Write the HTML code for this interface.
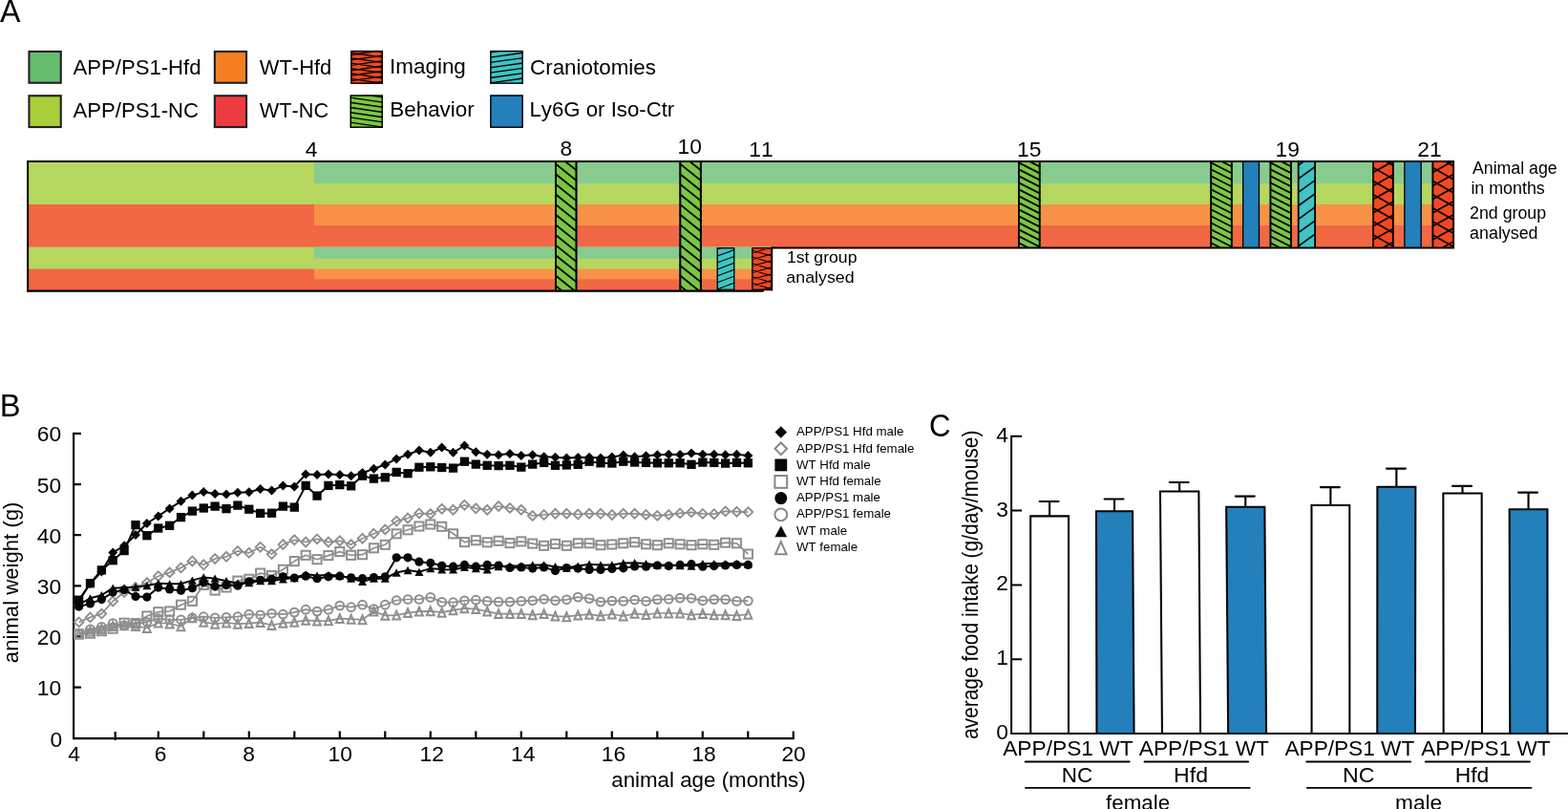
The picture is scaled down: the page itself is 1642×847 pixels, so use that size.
<!DOCTYPE html>
<html lang="en">
<head>
<meta charset="utf-8">
<title>Figure: experimental timeline, animal weight and food intake</title>
<style>
html,body{margin:0;padding:0;background:#fff;}
body{width:1642px;height:847px;overflow:hidden;}
svg{display:block;font-family:'Liberation Sans',sans-serif;font-kerning:none;fill:#000;}
</style>
</head>
<body>
<svg width="1642" height="847" viewBox="0 0 1642 847">
<rect width="1642" height="847" fill="#fff"/>
<defs><clipPath id="c1"><rect x="367.2" y="52.9" width="33.7" height="34.9"/></clipPath><clipPath id="c2"><rect x="366.6" y="99.4" width="34.3" height="34.5"/></clipPath><clipPath id="c3"><rect x="513.2" y="52.9" width="34.6" height="34.9"/></clipPath><clipPath id="c4"><rect x="581" y="169.05" width="23.5" height="135.55"/></clipPath><clipPath id="c5"><rect x="711.3" y="169.05" width="23.6" height="135.55"/></clipPath><clipPath id="c6"><rect x="750.6" y="259.1" width="18.8" height="44.8"/></clipPath><clipPath id="c7"><rect x="787.2" y="259.1" width="21.9" height="44.8"/></clipPath><clipPath id="c8"><rect x="1066" y="169.05" width="23.7" height="90.45"/></clipPath><clipPath id="c9"><rect x="1267.2" y="169.05" width="23.6" height="90.45"/></clipPath><clipPath id="c10"><rect x="1329.5" y="169.05" width="23.4" height="90.45"/></clipPath><clipPath id="c11"><rect x="1358.8" y="169.05" width="19.2" height="90.45"/></clipPath><clipPath id="c12"><rect x="1437.2" y="169.05" width="22.5" height="90.45"/></clipPath><clipPath id="c13"><rect x="1499.5" y="169.05" width="23.5" height="90.45"/></clipPath></defs>
<g id="panelA">
<text x="-0.06" y="22.7" font-size="33.3" textLength="21.43" lengthAdjust="spacingAndGlyphs">A</text>
<rect x="30.45" y="53.95" width="33.3" height="32.8" fill="#66bd6e" stroke="#231f20" stroke-width="2.1"/>
<rect x="30.45" y="100.25" width="33.3" height="32.8" fill="#a8ce38" stroke="#231f20" stroke-width="2.1"/>
<rect x="224.85" y="53.95" width="33.2" height="32.8" fill="#f57f20" stroke="#231f20" stroke-width="2.1"/>
<rect x="224.85" y="100.25" width="33.2" height="32.8" fill="#ee3b3f" stroke="#231f20" stroke-width="2.1"/>
<rect x="367.2" y="52.9" width="33.7" height="34.9" fill="#f04923"/>
<path d="M367.2 38.88L400.9 43.83M367.2 44.32L400.9 49.27M367.2 49.76L400.9 54.71M367.2 55.2L400.9 60.15M367.2 60.64L400.9 65.59M367.2 66.08L400.9 71.03M367.2 71.52L400.9 76.47M367.2 76.96L400.9 81.91M367.2 82.4L400.9 87.35M367.2 87.84L400.9 92.79M367.2 93.28L400.9 98.23M367.2 41.18L400.9 36.36M367.2 46.62L400.9 41.8M367.2 52.06L400.9 47.24M367.2 57.5L400.9 52.68M367.2 62.94L400.9 58.12M367.2 68.38L400.9 63.56M367.2 73.82L400.9 69M367.2 79.26L400.9 74.44M367.2 84.7L400.9 79.88M367.2 90.14L400.9 85.32M367.2 95.58L400.9 90.76" stroke="#000" stroke-width="1.3" fill="none" clip-path="url(#c1)"/>
<rect x="367.9" y="53.6" width="32.3" height="33.5" fill="none" stroke="#000" stroke-width="1.4"/>
<rect x="366.6" y="99.4" width="34.3" height="34.5" fill="#7cc644"/>
<path d="M366.6 86.5L400.9 91.51M366.6 91.7L400.9 96.71M366.6 96.9L400.9 101.91M366.6 102.1L400.9 107.11M366.6 107.3L400.9 112.31M366.6 112.5L400.9 117.51M366.6 117.7L400.9 122.71M366.6 122.9L400.9 127.91M366.6 128.1L400.9 133.11M366.6 133.3L400.9 138.31M366.6 138.5L400.9 143.51M366.6 143.7L400.9 148.71" stroke="#000" stroke-width="1.4" fill="none" clip-path="url(#c2)"/>
<rect x="367.3" y="100.1" width="32.9" height="33.1" fill="none" stroke="#000" stroke-width="1.4"/>
<rect x="513.2" y="52.9" width="34.6" height="34.9" fill="#40c4c4"/>
<path d="M513.2 38.7L547.8 33.86M513.2 44.05L547.8 39.21M513.2 49.4L547.8 44.56M513.2 54.75L547.8 49.91M513.2 60.1L547.8 55.26M513.2 65.45L547.8 60.61M513.2 70.8L547.8 65.96M513.2 76.15L547.8 71.31M513.2 81.5L547.8 76.66M513.2 86.85L547.8 82.01M513.2 92.2L547.8 87.36M513.2 97.55L547.8 92.71" stroke="#000" stroke-width="1.35" fill="none" clip-path="url(#c3)"/>
<rect x="513.9" y="53.6" width="33.2" height="33.5" fill="none" stroke="#000" stroke-width="1.4"/>
<rect x="513.2" y="99.4" width="34.6" height="34.5" fill="#2380bb"/>
<rect x="513.9" y="100.1" width="33.2" height="33.1" fill="none" stroke="#000" stroke-width="1.4"/>
<text x="76.56" y="78.2" font-size="22.7" textLength="133.97" lengthAdjust="spacingAndGlyphs">APP/PS1-Hfd</text>
<text x="76.56" y="122.6" font-size="22.7" textLength="131.38" lengthAdjust="spacingAndGlyphs">APP/PS1-NC</text>
<text x="271.8" y="78.2" font-size="22.7" textLength="75.41" lengthAdjust="spacingAndGlyphs">WT-Hfd</text>
<text x="271.8" y="122.6" font-size="22.7" textLength="72.32" lengthAdjust="spacingAndGlyphs">WT-NC</text>
<text x="408.03" y="76.7" font-size="22.7" textLength="79.82" lengthAdjust="spacingAndGlyphs">Imaging</text>
<text x="408.26" y="121.9" font-size="22.7" textLength="88.51" lengthAdjust="spacingAndGlyphs">Behavior</text>
<text x="555.06" y="77.7" font-size="22.7" textLength="131.85" lengthAdjust="spacingAndGlyphs">Craniotomies</text>
<text x="554.48" y="122" font-size="22.7" textLength="151.79" lengthAdjust="spacingAndGlyphs">Ly6G or Iso-Ctr</text>
<rect x="29.1" y="169.05" width="300.9" height="135.55" fill="#f26744"/>
<rect x="29.1" y="169.05" width="300.9" height="44.95" fill="#b6d75f"/>
<rect x="29.1" y="258.6" width="300.9" height="23" fill="#b6d75f"/>
<rect x="329" y="169.05" width="1193.05" height="90.45" fill="#f26744"/>
<rect x="329" y="169.05" width="1193.05" height="66.95" fill="#f79248"/>
<rect x="329" y="169.05" width="1193.05" height="44.95" fill="#b6d75f"/>
<rect x="329" y="169.05" width="1193.05" height="23.05" fill="#88cb8f"/>
<rect x="329" y="258.6" width="479.2" height="46" fill="#f26744"/>
<rect x="329" y="258.6" width="479.2" height="33.7" fill="#f79248"/>
<rect x="329" y="258.6" width="479.2" height="23" fill="#b6d75f"/>
<rect x="329" y="258.6" width="479.2" height="12.1" fill="#88cb8f"/>
<rect x="581" y="169.05" width="23.5" height="135.55" fill="#7cc644"/>
<path d="M581 139.01L604.5 157.81M581 149.64L604.5 168.44M581 160.27L604.5 179.07M581 170.9L604.5 189.7M581 181.53L604.5 200.33M581 192.16L604.5 210.96M581 202.79L604.5 221.59M581 213.42L604.5 232.22M581 224.05L604.5 242.85M581 234.68L604.5 253.48M581 245.31L604.5 264.11M581 255.94L604.5 274.74M581 266.57L604.5 285.37M581 277.2L604.5 296M581 287.83L604.5 306.63M581 298.46L604.5 317.26M581 309.09L604.5 327.89M581 319.72L604.5 338.52M581 330.35L604.5 349.15" stroke="#000" stroke-width="1.85" fill="none" clip-path="url(#c4)"/>
<path d="M582 169.05V304.6M603.5 169.05V304.6" fill="none" stroke="#000" stroke-width="2.0"/>
<rect x="711.3" y="169.05" width="23.6" height="135.55" fill="#7cc644"/>
<path d="M711.3 139.01L734.9 157.89M711.3 149.64L734.9 168.52M711.3 160.27L734.9 179.15M711.3 170.9L734.9 189.78M711.3 181.53L734.9 200.41M711.3 192.16L734.9 211.04M711.3 202.79L734.9 221.67M711.3 213.42L734.9 232.3M711.3 224.05L734.9 242.93M711.3 234.68L734.9 253.56M711.3 245.31L734.9 264.19M711.3 255.94L734.9 274.82M711.3 266.57L734.9 285.45M711.3 277.2L734.9 296.08M711.3 287.83L734.9 306.71M711.3 298.46L734.9 317.34M711.3 309.09L734.9 327.97M711.3 319.72L734.9 338.6M711.3 330.35L734.9 349.23" stroke="#000" stroke-width="1.85" fill="none" clip-path="url(#c5)"/>
<path d="M712.3 169.05V304.6M733.9 169.05V304.6" fill="none" stroke="#000" stroke-width="2.0"/>
<rect x="750.6" y="259.1" width="18.8" height="44.8" fill="#40c4c4"/>
<path d="M750.6 240.62L769.4 233.66M750.6 247.54L769.4 240.58M750.6 254.46L769.4 247.5M750.6 261.38L769.4 254.42M750.6 268.3L769.4 261.34M750.6 275.22L769.4 268.26M750.6 282.14L769.4 275.18M750.6 289.06L769.4 282.1M750.6 295.98L769.4 289.02M750.6 302.9L769.4 295.94M750.6 309.82L769.4 302.86M750.6 316.74L769.4 309.78" stroke="#000" stroke-width="1.05" fill="none" clip-path="url(#c6)"/>
<rect x="751.25" y="259.75" width="17.5" height="43.5" fill="none" stroke="#000" stroke-width="1.3"/>
<rect x="787.2" y="259.1" width="21.9" height="44.8" fill="#f04923"/>
<path d="M787.2 241.24L809.1 247.59M787.2 248.16L809.1 254.51M787.2 255.08L809.1 261.43M787.2 262L809.1 268.35M787.2 268.92L809.1 275.27M787.2 275.84L809.1 282.19M787.2 282.76L809.1 289.11M787.2 289.68L809.1 296.03M787.2 296.6L809.1 302.95M787.2 303.52L809.1 309.87M787.2 310.44L809.1 316.79M787.2 244.14L809.1 238.01M787.2 251.06L809.1 244.93M787.2 257.98L809.1 251.85M787.2 264.9L809.1 258.77M787.2 271.82L809.1 265.69M787.2 278.74L809.1 272.61M787.2 285.66L809.1 279.53M787.2 292.58L809.1 286.45M787.2 299.5L809.1 293.37M787.2 306.42L809.1 300.29M787.2 313.34L809.1 307.21" stroke="#000" stroke-width="1.05" fill="none" clip-path="url(#c7)"/>
<rect x="787.85" y="259.75" width="20.6" height="43.5" fill="none" stroke="#000" stroke-width="1.3"/>
<rect x="1066" y="169.05" width="23.7" height="90.45" fill="#7cc644"/>
<path d="M1066 148.9L1089.7 160.87M1066 155.9L1089.7 167.87M1066 162.9L1089.7 174.87M1066 169.9L1089.7 181.87M1066 176.9L1089.7 188.87M1066 183.9L1089.7 195.87M1066 190.9L1089.7 202.87M1066 197.9L1089.7 209.87M1066 204.9L1089.7 216.87M1066 211.9L1089.7 223.87M1066 218.9L1089.7 230.87M1066 225.9L1089.7 237.87M1066 232.9L1089.7 244.87M1066 239.9L1089.7 251.87M1066 246.9L1089.7 258.87M1066 253.9L1089.7 265.87M1066 260.9L1089.7 272.87M1066 267.9L1089.7 279.87M1066 274.9L1089.7 286.87" stroke="#000" stroke-width="1.8" fill="none" clip-path="url(#c8)"/>
<path d="M1066.95 169.05V259.5M1088.75 169.05V259.5" fill="none" stroke="#000" stroke-width="1.9"/>
<rect x="1267.2" y="169.05" width="23.6" height="90.45" fill="#7cc644"/>
<path d="M1267.2 148.9L1290.8 160.82M1267.2 155.9L1290.8 167.82M1267.2 162.9L1290.8 174.82M1267.2 169.9L1290.8 181.82M1267.2 176.9L1290.8 188.82M1267.2 183.9L1290.8 195.82M1267.2 190.9L1290.8 202.82M1267.2 197.9L1290.8 209.82M1267.2 204.9L1290.8 216.82M1267.2 211.9L1290.8 223.82M1267.2 218.9L1290.8 230.82M1267.2 225.9L1290.8 237.82M1267.2 232.9L1290.8 244.82M1267.2 239.9L1290.8 251.82M1267.2 246.9L1290.8 258.82M1267.2 253.9L1290.8 265.82M1267.2 260.9L1290.8 272.82M1267.2 267.9L1290.8 279.82M1267.2 274.9L1290.8 286.82" stroke="#000" stroke-width="1.8" fill="none" clip-path="url(#c9)"/>
<path d="M1268.15 169.05V259.5M1289.85 169.05V259.5" fill="none" stroke="#000" stroke-width="1.9"/>
<rect x="1301" y="169.05" width="18.1" height="90.45" fill="#2380bb"/>
<path d="M1301.65 169.05V259.5M1318.45 169.05V259.5" fill="none" stroke="#000" stroke-width="1.3"/>
<rect x="1329.5" y="169.05" width="23.4" height="90.45" fill="#7cc644"/>
<path d="M1329.5 148.9L1352.9 160.72M1329.5 155.9L1352.9 167.72M1329.5 162.9L1352.9 174.72M1329.5 169.9L1352.9 181.72M1329.5 176.9L1352.9 188.72M1329.5 183.9L1352.9 195.72M1329.5 190.9L1352.9 202.72M1329.5 197.9L1352.9 209.72M1329.5 204.9L1352.9 216.72M1329.5 211.9L1352.9 223.72M1329.5 218.9L1352.9 230.72M1329.5 225.9L1352.9 237.72M1329.5 232.9L1352.9 244.72M1329.5 239.9L1352.9 251.72M1329.5 246.9L1352.9 258.72M1329.5 253.9L1352.9 265.72M1329.5 260.9L1352.9 272.72M1329.5 267.9L1352.9 279.72M1329.5 274.9L1352.9 286.72" stroke="#000" stroke-width="1.8" fill="none" clip-path="url(#c10)"/>
<path d="M1330.45 169.05V259.5M1351.95 169.05V259.5" fill="none" stroke="#000" stroke-width="1.9"/>
<rect x="1358.8" y="169.05" width="19.2" height="90.45" fill="#40c4c4"/>
<path d="M1358.8 131.4L1378 117.58M1358.8 145.5L1378 131.68M1358.8 159.6L1378 145.78M1358.8 173.7L1378 159.88M1358.8 187.8L1378 173.98M1358.8 201.9L1378 188.08M1358.8 216L1378 202.18M1358.8 230.1L1378 216.28M1358.8 244.2L1378 230.38M1358.8 258.3L1378 244.48M1358.8 272.4L1378 258.58M1358.8 286.5L1378 272.68" stroke="#000" stroke-width="1.65" fill="none" clip-path="url(#c11)"/>
<path d="M1359.7 169.05V259.5M1377.1 169.05V259.5" fill="none" stroke="#000" stroke-width="1.8"/>
<rect x="1437.2" y="169.05" width="22.5" height="90.45" fill="#f04923"/>
<path d="M1437.2 132.7L1459.7 145.52M1437.2 146.8L1459.7 159.62M1437.2 160.9L1459.7 173.72M1437.2 175L1459.7 187.82M1437.2 189.1L1459.7 201.92M1437.2 203.2L1459.7 216.02M1437.2 217.3L1459.7 230.12M1437.2 231.4L1459.7 244.22M1437.2 245.5L1459.7 258.32M1437.2 259.6L1459.7 272.42M1437.2 273.7L1459.7 286.52M1437.2 138.6L1459.7 126.11M1437.2 152.7L1459.7 140.21M1437.2 166.8L1459.7 154.31M1437.2 180.9L1459.7 168.41M1437.2 195L1459.7 182.51M1437.2 209.1L1459.7 196.61M1437.2 223.2L1459.7 210.71M1437.2 237.3L1459.7 224.81M1437.2 251.4L1459.7 238.91M1437.2 265.5L1459.7 253.01M1437.2 279.6L1459.7 267.11" stroke="#000" stroke-width="1.7" fill="none" clip-path="url(#c12)"/>
<path d="M1438.1 169.05V259.5M1458.8 169.05V259.5" fill="none" stroke="#000" stroke-width="1.8"/>
<rect x="1470.2" y="169.05" width="18.6" height="90.45" fill="#2380bb"/>
<path d="M1470.85 169.05V259.5M1488.15 169.05V259.5" fill="none" stroke="#000" stroke-width="1.3"/>
<rect x="1499.5" y="169.05" width="23.5" height="90.45" fill="#f04923"/>
<path d="M1499.5 132.7L1523 146.09M1499.5 146.8L1523 160.19M1499.5 160.9L1523 174.29M1499.5 175L1523 188.39M1499.5 189.1L1523 202.49M1499.5 203.2L1523 216.59M1499.5 217.3L1523 230.69M1499.5 231.4L1523 244.79M1499.5 245.5L1523 258.89M1499.5 259.6L1523 272.99M1499.5 273.7L1523 287.09M1499.5 138.6L1523 125.56M1499.5 152.7L1523 139.66M1499.5 166.8L1523 153.76M1499.5 180.9L1523 167.86M1499.5 195L1523 181.96M1499.5 209.1L1523 196.06M1499.5 223.2L1523 210.16M1499.5 237.3L1523 224.26M1499.5 251.4L1523 238.36M1499.5 265.5L1523 252.46M1499.5 279.6L1523 266.56" stroke="#000" stroke-width="1.7" fill="none" clip-path="url(#c13)"/>
<path d="M1500.4 169.05V259.5M1522.1 169.05V259.5" fill="none" stroke="#000" stroke-width="1.8"/>
<path d="M29.1 305.55V169.05H1522.05V259.5H808.2" fill="none" stroke="#000" stroke-width="2" stroke-linejoin="miter"/>
<path d="M28.1 304.6H799.8" fill="none" stroke="#000" stroke-width="2.3"/>
<path d="M808.2 258.6V304.4" fill="none" stroke="#000" stroke-width="1.8"/>
<text x="326.2" y="163.6" font-size="22.8" text-anchor="middle">4</text>
<text x="592.75" y="163.4" font-size="22.8" text-anchor="middle">8</text>
<text x="722.3" y="160.5" font-size="22.8" text-anchor="middle">10</text>
<text x="796.9" y="163.5" font-size="22.8" text-anchor="middle">11</text>
<text x="1077.7" y="163.6" font-size="22.8" text-anchor="middle">15</text>
<text x="1348.2" y="163.5" font-size="22.8" text-anchor="middle">19</text>
<text x="1497" y="163.5" font-size="22.8" text-anchor="middle">21</text>
<text x="1541.97" y="181.9" font-size="17.6" textLength="88.72" lengthAdjust="spacingAndGlyphs">Animal age</text>
<text x="1540.41" y="203.2" font-size="17.6" textLength="77.34" lengthAdjust="spacingAndGlyphs">in months</text>
<text x="1539.01" y="228.6" font-size="17.6" textLength="80.14" lengthAdjust="spacingAndGlyphs">2nd group</text>
<text x="1539.14" y="249.9" font-size="17.6" textLength="71.41" lengthAdjust="spacingAndGlyphs">analysed</text>
<text x="823.96" y="275" font-size="17.4" textLength="73.48" lengthAdjust="spacingAndGlyphs">1st group</text>
<text x="823.34" y="296.3" font-size="17.4" textLength="71.3" lengthAdjust="spacingAndGlyphs">analysed</text>
</g>
<g id="panelB">
<text x="-0.18" y="435.7" font-size="33.3" textLength="21.81" lengthAdjust="spacingAndGlyphs">B</text>
<path d="M77.1 452.81V773.1H831.9M77.1 719.61H84.9M77.1 666.47H84.9M77.1 613.33H84.9M77.1 560.19H84.9M77.1 507.05H84.9M77.1 453.91H84.9M165.8 773.1V765.5M213.3 773.1V765.5M260.8 773.1V765.5M308.3 773.1V765.5M355.8 773.1V765.5M403.3 773.1V765.5M450.8 773.1V765.5M498.3 773.1V765.5M545.8 773.1V765.5M593.3 773.1V765.5M640.8 773.1V765.5M688.3 773.1V765.5M735.8 773.1V765.5M783.3 773.1V765.5M830.8 773.1V765.5M120.7 775V766.1" fill="none" stroke="#000" stroke-width="2.2"/>
<text x="64.2" y="728.11" font-size="22.8" text-anchor="end">10</text>
<text x="64.2" y="674.97" font-size="22.8" text-anchor="end">20</text>
<text x="64.2" y="621.83" font-size="22.8" text-anchor="end">30</text>
<text x="64.2" y="568.69" font-size="22.8" text-anchor="end">40</text>
<text x="64.2" y="515.55" font-size="22.8" text-anchor="end">50</text>
<text x="64.2" y="462.41" font-size="22.8" text-anchor="end">60</text>
<text x="65.3" y="781.7" font-size="22.8" text-anchor="end">0</text>
<text x="77.55" y="797.2" font-size="22.8" text-anchor="middle">4</text>
<text x="168.1" y="797.2" font-size="22.8" text-anchor="middle">6</text>
<text x="260.5" y="797.2" font-size="22.8" text-anchor="middle">8</text>
<text x="356.3" y="797.2" font-size="22.8" text-anchor="middle">10</text>
<text x="452.3" y="797.2" font-size="22.8" text-anchor="middle">12</text>
<text x="547.7" y="797.2" font-size="22.8" text-anchor="middle">14</text>
<text x="642.4" y="797.2" font-size="22.8" text-anchor="middle">16</text>
<text x="737.1" y="797.2" font-size="22.8" text-anchor="middle">18</text>
<text x="831.1" y="797.2" font-size="22.8" text-anchor="middle">20</text>
<text x="640.25" y="824.3" font-size="22.3" textLength="203.43" lengthAdjust="spacingAndGlyphs">animal age (months)</text>
<text transform="translate(19.4,693.2) rotate(-90)" x="-0.94" y="0" font-size="22.5" textLength="168.61" lengthAdjust="spacingAndGlyphs">animal weight (g)</text>
<polyline points="82.6,664 94.48,661 106.36,658.5 118.23,655.5 130.11,654.9 141.99,655.5 153.87,657.5 165.75,652 177.62,653 189.5,655.7 201.38,646.9 213.26,651.3 225.14,653.2 237.01,652 248.89,653.2 260.77,652.6 272.65,651.6 284.53,654.5 296.4,652.3 308.28,651.3 320.16,649.4 332.04,650.1 343.92,649.8 355.79,647.6 367.67,648.2 379.55,648.8 391.43,640.1 403.31,644.4 415.18,644.1 427.06,641.6 438.94,640.1 450.82,639.8 462.7,641.2 474.57,638.8 486.45,636.9 498.33,637.6 510.21,640.1 522.09,642.6 533.96,642.6 545.84,642.6 557.72,643.8 569.6,642.6 581.48,645.1 593.35,645.7 605.23,644.1 617.11,643.2 628.99,644.8 640.87,643 652.74,645 664.62,642.3 676.5,643.6 688.38,642 700.26,642 712.13,642 724.01,643.8 735.89,642.6 747.77,643.8 759.65,643.8 771.52,644.5 783.4,643.2" fill="none" stroke="#8e8e8e" stroke-width="1.7" stroke-linejoin="round"/>
<path d="M82.6 659.55L86.51 668.45L78.69 668.45Z" fill="none" stroke="#8e8e8e" stroke-width="2.0"/><path d="M94.48 656.55L98.38 665.45L90.57 665.45Z" fill="none" stroke="#8e8e8e" stroke-width="2.0"/><path d="M106.36 654.05L110.26 662.95L102.45 662.95Z" fill="none" stroke="#8e8e8e" stroke-width="2.0"/><path d="M118.23 651.05L122.14 659.95L114.33 659.95Z" fill="none" stroke="#8e8e8e" stroke-width="2.0"/><path d="M130.11 650.45L134.02 659.35L126.21 659.35Z" fill="none" stroke="#8e8e8e" stroke-width="2.0"/><path d="M141.99 651.05L145.9 659.95L138.08 659.95Z" fill="none" stroke="#8e8e8e" stroke-width="2.0"/><path d="M153.87 653.05L157.77 661.95L149.96 661.95Z" fill="none" stroke="#8e8e8e" stroke-width="2.0"/><path d="M165.75 647.55L169.65 656.45L161.84 656.45Z" fill="none" stroke="#8e8e8e" stroke-width="2.0"/><path d="M177.62 648.55L181.53 657.45L173.72 657.45Z" fill="none" stroke="#8e8e8e" stroke-width="2.0"/><path d="M189.5 651.25L193.41 660.15L185.6 660.15Z" fill="none" stroke="#8e8e8e" stroke-width="2.0"/><path d="M201.38 642.45L205.29 651.35L197.47 651.35Z" fill="none" stroke="#8e8e8e" stroke-width="2.0"/><path d="M213.26 646.85L217.16 655.75L209.35 655.75Z" fill="none" stroke="#8e8e8e" stroke-width="2.0"/><path d="M225.14 648.75L229.04 657.65L221.23 657.65Z" fill="none" stroke="#8e8e8e" stroke-width="2.0"/><path d="M237.01 647.55L240.92 656.45L233.11 656.45Z" fill="none" stroke="#8e8e8e" stroke-width="2.0"/><path d="M248.89 648.75L252.8 657.65L244.99 657.65Z" fill="none" stroke="#8e8e8e" stroke-width="2.0"/><path d="M260.77 648.15L264.68 657.05L256.86 657.05Z" fill="none" stroke="#8e8e8e" stroke-width="2.0"/><path d="M272.65 647.15L276.55 656.05L268.74 656.05Z" fill="none" stroke="#8e8e8e" stroke-width="2.0"/><path d="M284.53 650.05L288.43 658.95L280.62 658.95Z" fill="none" stroke="#8e8e8e" stroke-width="2.0"/><path d="M296.4 647.85L300.31 656.75L292.5 656.75Z" fill="none" stroke="#8e8e8e" stroke-width="2.0"/><path d="M308.28 646.85L312.19 655.75L304.38 655.75Z" fill="none" stroke="#8e8e8e" stroke-width="2.0"/><path d="M320.16 644.95L324.07 653.85L316.25 653.85Z" fill="none" stroke="#8e8e8e" stroke-width="2.0"/><path d="M332.04 645.65L335.94 654.55L328.13 654.55Z" fill="none" stroke="#8e8e8e" stroke-width="2.0"/><path d="M343.92 645.35L347.82 654.25L340.01 654.25Z" fill="none" stroke="#8e8e8e" stroke-width="2.0"/><path d="M355.79 643.15L359.7 652.05L351.89 652.05Z" fill="none" stroke="#8e8e8e" stroke-width="2.0"/><path d="M367.67 643.75L371.58 652.65L363.77 652.65Z" fill="none" stroke="#8e8e8e" stroke-width="2.0"/><path d="M379.55 644.35L383.46 653.25L375.64 653.25Z" fill="none" stroke="#8e8e8e" stroke-width="2.0"/><path d="M391.43 635.65L395.33 644.55L387.52 644.55Z" fill="none" stroke="#8e8e8e" stroke-width="2.0"/><path d="M403.31 639.95L407.21 648.85L399.4 648.85Z" fill="none" stroke="#8e8e8e" stroke-width="2.0"/><path d="M415.18 639.65L419.09 648.55L411.28 648.55Z" fill="none" stroke="#8e8e8e" stroke-width="2.0"/><path d="M427.06 637.15L430.97 646.05L423.16 646.05Z" fill="none" stroke="#8e8e8e" stroke-width="2.0"/><path d="M438.94 635.65L442.85 644.55L435.03 644.55Z" fill="none" stroke="#8e8e8e" stroke-width="2.0"/><path d="M450.82 635.35L454.72 644.25L446.91 644.25Z" fill="none" stroke="#8e8e8e" stroke-width="2.0"/><path d="M462.7 636.75L466.6 645.65L458.79 645.65Z" fill="none" stroke="#8e8e8e" stroke-width="2.0"/><path d="M474.57 634.35L478.48 643.25L470.67 643.25Z" fill="none" stroke="#8e8e8e" stroke-width="2.0"/><path d="M486.45 632.45L490.36 641.35L482.55 641.35Z" fill="none" stroke="#8e8e8e" stroke-width="2.0"/><path d="M498.33 633.15L502.24 642.05L494.42 642.05Z" fill="none" stroke="#8e8e8e" stroke-width="2.0"/><path d="M510.21 635.65L514.11 644.55L506.3 644.55Z" fill="none" stroke="#8e8e8e" stroke-width="2.0"/><path d="M522.09 638.15L525.99 647.05L518.18 647.05Z" fill="none" stroke="#8e8e8e" stroke-width="2.0"/><path d="M533.96 638.15L537.87 647.05L530.06 647.05Z" fill="none" stroke="#8e8e8e" stroke-width="2.0"/><path d="M545.84 638.15L549.75 647.05L541.94 647.05Z" fill="none" stroke="#8e8e8e" stroke-width="2.0"/><path d="M557.72 639.35L561.63 648.25L553.81 648.25Z" fill="none" stroke="#8e8e8e" stroke-width="2.0"/><path d="M569.6 638.15L573.5 647.05L565.69 647.05Z" fill="none" stroke="#8e8e8e" stroke-width="2.0"/><path d="M581.48 640.65L585.38 649.55L577.57 649.55Z" fill="none" stroke="#8e8e8e" stroke-width="2.0"/><path d="M593.35 641.25L597.26 650.15L589.45 650.15Z" fill="none" stroke="#8e8e8e" stroke-width="2.0"/><path d="M605.23 639.65L609.14 648.55L601.33 648.55Z" fill="none" stroke="#8e8e8e" stroke-width="2.0"/><path d="M617.11 638.75L621.02 647.65L613.2 647.65Z" fill="none" stroke="#8e8e8e" stroke-width="2.0"/><path d="M628.99 640.35L632.89 649.25L625.08 649.25Z" fill="none" stroke="#8e8e8e" stroke-width="2.0"/><path d="M640.87 638.55L644.77 647.45L636.96 647.45Z" fill="none" stroke="#8e8e8e" stroke-width="2.0"/><path d="M652.74 640.55L656.65 649.45L648.84 649.45Z" fill="none" stroke="#8e8e8e" stroke-width="2.0"/><path d="M664.62 637.85L668.53 646.75L660.72 646.75Z" fill="none" stroke="#8e8e8e" stroke-width="2.0"/><path d="M676.5 639.15L680.41 648.05L672.59 648.05Z" fill="none" stroke="#8e8e8e" stroke-width="2.0"/><path d="M688.38 637.55L692.28 646.45L684.47 646.45Z" fill="none" stroke="#8e8e8e" stroke-width="2.0"/><path d="M700.26 637.55L704.16 646.45L696.35 646.45Z" fill="none" stroke="#8e8e8e" stroke-width="2.0"/><path d="M712.13 637.55L716.04 646.45L708.23 646.45Z" fill="none" stroke="#8e8e8e" stroke-width="2.0"/><path d="M724.01 639.35L727.92 648.25L720.11 648.25Z" fill="none" stroke="#8e8e8e" stroke-width="2.0"/><path d="M735.89 638.15L739.8 647.05L731.98 647.05Z" fill="none" stroke="#8e8e8e" stroke-width="2.0"/><path d="M747.77 639.35L751.67 648.25L743.86 648.25Z" fill="none" stroke="#8e8e8e" stroke-width="2.0"/><path d="M759.65 639.35L763.55 648.25L755.74 648.25Z" fill="none" stroke="#8e8e8e" stroke-width="2.0"/><path d="M771.52 640.05L775.43 648.95L767.62 648.95Z" fill="none" stroke="#8e8e8e" stroke-width="2.0"/><path d="M783.4 638.75L787.31 647.65L779.5 647.65Z" fill="none" stroke="#8e8e8e" stroke-width="2.0"/>
<polyline points="82.6,663.5 94.48,658.8 106.36,656.3 118.23,652.6 130.11,654.9 141.99,653.2 153.87,651.3 165.75,647.6 177.62,648.8 189.5,648.8 201.38,646.9 213.26,645.7 225.14,646.9 237.01,646.3 248.89,645.7 260.77,643.2 272.65,643.8 284.53,642.3 296.4,643.2 308.28,641.1 320.16,638.2 332.04,640.1 343.92,638.2 355.79,634.1 367.67,635.7 379.55,633.2 391.43,637.6 403.31,633.2 415.18,628.5 427.06,627.5 438.94,627.5 450.82,625.4 462.7,630.4 474.57,630.7 486.45,628.8 498.33,628.2 510.21,629.4 522.09,630.1 533.96,630.1 545.84,629.4 557.72,628.8 569.6,627.3 581.48,628.8 593.35,627.8 605.23,625.1 617.11,626.6 628.99,630.1 640.87,629.1 652.74,629.4 664.62,628 676.5,629.4 688.38,627.6 700.26,627.3 712.13,626.1 724.01,626.3 735.89,628.8 747.77,627.6 759.65,627.6 771.52,629.4 783.4,629.1" fill="none" stroke="#8e8e8e" stroke-width="1.7" stroke-linejoin="round"/>
<circle cx="82.6" cy="663.5" r="4.35" fill="none" stroke="#8e8e8e" stroke-width="2.0"/><circle cx="94.48" cy="658.8" r="4.35" fill="none" stroke="#8e8e8e" stroke-width="2.0"/><circle cx="106.36" cy="656.3" r="4.35" fill="none" stroke="#8e8e8e" stroke-width="2.0"/><circle cx="118.23" cy="652.6" r="4.35" fill="none" stroke="#8e8e8e" stroke-width="2.0"/><circle cx="130.11" cy="654.9" r="4.35" fill="none" stroke="#8e8e8e" stroke-width="2.0"/><circle cx="141.99" cy="653.2" r="4.35" fill="none" stroke="#8e8e8e" stroke-width="2.0"/><circle cx="153.87" cy="651.3" r="4.35" fill="none" stroke="#8e8e8e" stroke-width="2.0"/><circle cx="165.75" cy="647.6" r="4.35" fill="none" stroke="#8e8e8e" stroke-width="2.0"/><circle cx="177.62" cy="648.8" r="4.35" fill="none" stroke="#8e8e8e" stroke-width="2.0"/><circle cx="189.5" cy="648.8" r="4.35" fill="none" stroke="#8e8e8e" stroke-width="2.0"/><circle cx="201.38" cy="646.9" r="4.35" fill="none" stroke="#8e8e8e" stroke-width="2.0"/><circle cx="213.26" cy="645.7" r="4.35" fill="none" stroke="#8e8e8e" stroke-width="2.0"/><circle cx="225.14" cy="646.9" r="4.35" fill="none" stroke="#8e8e8e" stroke-width="2.0"/><circle cx="237.01" cy="646.3" r="4.35" fill="none" stroke="#8e8e8e" stroke-width="2.0"/><circle cx="248.89" cy="645.7" r="4.35" fill="none" stroke="#8e8e8e" stroke-width="2.0"/><circle cx="260.77" cy="643.2" r="4.35" fill="none" stroke="#8e8e8e" stroke-width="2.0"/><circle cx="272.65" cy="643.8" r="4.35" fill="none" stroke="#8e8e8e" stroke-width="2.0"/><circle cx="284.53" cy="642.3" r="4.35" fill="none" stroke="#8e8e8e" stroke-width="2.0"/><circle cx="296.4" cy="643.2" r="4.35" fill="none" stroke="#8e8e8e" stroke-width="2.0"/><circle cx="308.28" cy="641.1" r="4.35" fill="none" stroke="#8e8e8e" stroke-width="2.0"/><circle cx="320.16" cy="638.2" r="4.35" fill="none" stroke="#8e8e8e" stroke-width="2.0"/><circle cx="332.04" cy="640.1" r="4.35" fill="none" stroke="#8e8e8e" stroke-width="2.0"/><circle cx="343.92" cy="638.2" r="4.35" fill="none" stroke="#8e8e8e" stroke-width="2.0"/><circle cx="355.79" cy="634.1" r="4.35" fill="none" stroke="#8e8e8e" stroke-width="2.0"/><circle cx="367.67" cy="635.7" r="4.35" fill="none" stroke="#8e8e8e" stroke-width="2.0"/><circle cx="379.55" cy="633.2" r="4.35" fill="none" stroke="#8e8e8e" stroke-width="2.0"/><circle cx="391.43" cy="637.6" r="4.35" fill="none" stroke="#8e8e8e" stroke-width="2.0"/><circle cx="403.31" cy="633.2" r="4.35" fill="none" stroke="#8e8e8e" stroke-width="2.0"/><circle cx="415.18" cy="628.5" r="4.35" fill="none" stroke="#8e8e8e" stroke-width="2.0"/><circle cx="427.06" cy="627.5" r="4.35" fill="none" stroke="#8e8e8e" stroke-width="2.0"/><circle cx="438.94" cy="627.5" r="4.35" fill="none" stroke="#8e8e8e" stroke-width="2.0"/><circle cx="450.82" cy="625.4" r="4.35" fill="none" stroke="#8e8e8e" stroke-width="2.0"/><circle cx="462.7" cy="630.4" r="4.35" fill="none" stroke="#8e8e8e" stroke-width="2.0"/><circle cx="474.57" cy="630.7" r="4.35" fill="none" stroke="#8e8e8e" stroke-width="2.0"/><circle cx="486.45" cy="628.8" r="4.35" fill="none" stroke="#8e8e8e" stroke-width="2.0"/><circle cx="498.33" cy="628.2" r="4.35" fill="none" stroke="#8e8e8e" stroke-width="2.0"/><circle cx="510.21" cy="629.4" r="4.35" fill="none" stroke="#8e8e8e" stroke-width="2.0"/><circle cx="522.09" cy="630.1" r="4.35" fill="none" stroke="#8e8e8e" stroke-width="2.0"/><circle cx="533.96" cy="630.1" r="4.35" fill="none" stroke="#8e8e8e" stroke-width="2.0"/><circle cx="545.84" cy="629.4" r="4.35" fill="none" stroke="#8e8e8e" stroke-width="2.0"/><circle cx="557.72" cy="628.8" r="4.35" fill="none" stroke="#8e8e8e" stroke-width="2.0"/><circle cx="569.6" cy="627.3" r="4.35" fill="none" stroke="#8e8e8e" stroke-width="2.0"/><circle cx="581.48" cy="628.8" r="4.35" fill="none" stroke="#8e8e8e" stroke-width="2.0"/><circle cx="593.35" cy="627.8" r="4.35" fill="none" stroke="#8e8e8e" stroke-width="2.0"/><circle cx="605.23" cy="625.1" r="4.35" fill="none" stroke="#8e8e8e" stroke-width="2.0"/><circle cx="617.11" cy="626.6" r="4.35" fill="none" stroke="#8e8e8e" stroke-width="2.0"/><circle cx="628.99" cy="630.1" r="4.35" fill="none" stroke="#8e8e8e" stroke-width="2.0"/><circle cx="640.87" cy="629.1" r="4.35" fill="none" stroke="#8e8e8e" stroke-width="2.0"/><circle cx="652.74" cy="629.4" r="4.35" fill="none" stroke="#8e8e8e" stroke-width="2.0"/><circle cx="664.62" cy="628" r="4.35" fill="none" stroke="#8e8e8e" stroke-width="2.0"/><circle cx="676.5" cy="629.4" r="4.35" fill="none" stroke="#8e8e8e" stroke-width="2.0"/><circle cx="688.38" cy="627.6" r="4.35" fill="none" stroke="#8e8e8e" stroke-width="2.0"/><circle cx="700.26" cy="627.3" r="4.35" fill="none" stroke="#8e8e8e" stroke-width="2.0"/><circle cx="712.13" cy="626.1" r="4.35" fill="none" stroke="#8e8e8e" stroke-width="2.0"/><circle cx="724.01" cy="626.3" r="4.35" fill="none" stroke="#8e8e8e" stroke-width="2.0"/><circle cx="735.89" cy="628.8" r="4.35" fill="none" stroke="#8e8e8e" stroke-width="2.0"/><circle cx="747.77" cy="627.6" r="4.35" fill="none" stroke="#8e8e8e" stroke-width="2.0"/><circle cx="759.65" cy="627.6" r="4.35" fill="none" stroke="#8e8e8e" stroke-width="2.0"/><circle cx="771.52" cy="629.4" r="4.35" fill="none" stroke="#8e8e8e" stroke-width="2.0"/><circle cx="783.4" cy="629.1" r="4.35" fill="none" stroke="#8e8e8e" stroke-width="2.0"/>
<polyline points="82.6,663.8 94.48,663.2 106.36,660.7 118.23,658.2 130.11,652.2 141.99,652.6 153.87,645 165.75,640.7 177.62,640 189.5,633.2 201.38,629.4 213.26,612.5 225.14,618.1 237.01,615 248.89,608.1 260.77,606.3 272.65,600.1 284.53,602.6 296.4,596.3 308.28,587.6 320.16,581.3 332.04,585.7 343.92,581.6 355.79,577.6 367.67,581.3 379.55,580.7 391.43,573.8 403.31,570.3 415.18,558.8 427.06,554.8 438.94,551 450.82,549 462.7,551.3 474.57,558.8 486.45,567.6 498.33,565.7 510.21,567.8 522.09,566.3 533.96,568.6 545.84,566.9 557.72,569.1 569.6,571.3 581.48,569.4 593.35,571.3 605.23,568.8 617.11,568.8 628.99,570.7 640.87,570 652.74,568.8 664.62,567.7 676.5,569.8 688.38,570.7 700.26,568.8 712.13,569.8 724.01,570.7 735.89,569.8 747.77,570.3 759.65,568.2 771.52,568.8 783.4,580.1" fill="none" stroke="#8e8e8e" stroke-width="1.7" stroke-linejoin="round"/>
<rect x="78.05" y="659.25" width="9.1" height="9.1" fill="none" stroke="#8e8e8e" stroke-width="2.0"/><rect x="89.93" y="658.65" width="9.1" height="9.1" fill="none" stroke="#8e8e8e" stroke-width="2.0"/><rect x="101.81" y="656.15" width="9.1" height="9.1" fill="none" stroke="#8e8e8e" stroke-width="2.0"/><rect x="113.68" y="653.65" width="9.1" height="9.1" fill="none" stroke="#8e8e8e" stroke-width="2.0"/><rect x="125.56" y="647.65" width="9.1" height="9.1" fill="none" stroke="#8e8e8e" stroke-width="2.0"/><rect x="137.44" y="648.05" width="9.1" height="9.1" fill="none" stroke="#8e8e8e" stroke-width="2.0"/><rect x="149.32" y="640.45" width="9.1" height="9.1" fill="none" stroke="#8e8e8e" stroke-width="2.0"/><rect x="161.2" y="636.15" width="9.1" height="9.1" fill="none" stroke="#8e8e8e" stroke-width="2.0"/><rect x="173.07" y="635.45" width="9.1" height="9.1" fill="none" stroke="#8e8e8e" stroke-width="2.0"/><rect x="184.95" y="628.65" width="9.1" height="9.1" fill="none" stroke="#8e8e8e" stroke-width="2.0"/><rect x="196.83" y="624.85" width="9.1" height="9.1" fill="none" stroke="#8e8e8e" stroke-width="2.0"/><rect x="208.71" y="607.95" width="9.1" height="9.1" fill="none" stroke="#8e8e8e" stroke-width="2.0"/><rect x="220.59" y="613.55" width="9.1" height="9.1" fill="none" stroke="#8e8e8e" stroke-width="2.0"/><rect x="232.46" y="610.45" width="9.1" height="9.1" fill="none" stroke="#8e8e8e" stroke-width="2.0"/><rect x="244.34" y="603.55" width="9.1" height="9.1" fill="none" stroke="#8e8e8e" stroke-width="2.0"/><rect x="256.22" y="601.75" width="9.1" height="9.1" fill="none" stroke="#8e8e8e" stroke-width="2.0"/><rect x="268.1" y="595.55" width="9.1" height="9.1" fill="none" stroke="#8e8e8e" stroke-width="2.0"/><rect x="279.98" y="598.05" width="9.1" height="9.1" fill="none" stroke="#8e8e8e" stroke-width="2.0"/><rect x="291.85" y="591.75" width="9.1" height="9.1" fill="none" stroke="#8e8e8e" stroke-width="2.0"/><rect x="303.73" y="583.05" width="9.1" height="9.1" fill="none" stroke="#8e8e8e" stroke-width="2.0"/><rect x="315.61" y="576.75" width="9.1" height="9.1" fill="none" stroke="#8e8e8e" stroke-width="2.0"/><rect x="327.49" y="581.15" width="9.1" height="9.1" fill="none" stroke="#8e8e8e" stroke-width="2.0"/><rect x="339.37" y="577.05" width="9.1" height="9.1" fill="none" stroke="#8e8e8e" stroke-width="2.0"/><rect x="351.24" y="573.05" width="9.1" height="9.1" fill="none" stroke="#8e8e8e" stroke-width="2.0"/><rect x="363.12" y="576.75" width="9.1" height="9.1" fill="none" stroke="#8e8e8e" stroke-width="2.0"/><rect x="375" y="576.15" width="9.1" height="9.1" fill="none" stroke="#8e8e8e" stroke-width="2.0"/><rect x="386.88" y="569.25" width="9.1" height="9.1" fill="none" stroke="#8e8e8e" stroke-width="2.0"/><rect x="398.76" y="565.75" width="9.1" height="9.1" fill="none" stroke="#8e8e8e" stroke-width="2.0"/><rect x="410.63" y="554.25" width="9.1" height="9.1" fill="none" stroke="#8e8e8e" stroke-width="2.0"/><rect x="422.51" y="550.25" width="9.1" height="9.1" fill="none" stroke="#8e8e8e" stroke-width="2.0"/><rect x="434.39" y="546.45" width="9.1" height="9.1" fill="none" stroke="#8e8e8e" stroke-width="2.0"/><rect x="446.27" y="544.45" width="9.1" height="9.1" fill="none" stroke="#8e8e8e" stroke-width="2.0"/><rect x="458.15" y="546.75" width="9.1" height="9.1" fill="none" stroke="#8e8e8e" stroke-width="2.0"/><rect x="470.02" y="554.25" width="9.1" height="9.1" fill="none" stroke="#8e8e8e" stroke-width="2.0"/><rect x="481.9" y="563.05" width="9.1" height="9.1" fill="none" stroke="#8e8e8e" stroke-width="2.0"/><rect x="493.78" y="561.15" width="9.1" height="9.1" fill="none" stroke="#8e8e8e" stroke-width="2.0"/><rect x="505.66" y="563.25" width="9.1" height="9.1" fill="none" stroke="#8e8e8e" stroke-width="2.0"/><rect x="517.54" y="561.75" width="9.1" height="9.1" fill="none" stroke="#8e8e8e" stroke-width="2.0"/><rect x="529.41" y="564.05" width="9.1" height="9.1" fill="none" stroke="#8e8e8e" stroke-width="2.0"/><rect x="541.29" y="562.35" width="9.1" height="9.1" fill="none" stroke="#8e8e8e" stroke-width="2.0"/><rect x="553.17" y="564.55" width="9.1" height="9.1" fill="none" stroke="#8e8e8e" stroke-width="2.0"/><rect x="565.05" y="566.75" width="9.1" height="9.1" fill="none" stroke="#8e8e8e" stroke-width="2.0"/><rect x="576.93" y="564.85" width="9.1" height="9.1" fill="none" stroke="#8e8e8e" stroke-width="2.0"/><rect x="588.8" y="566.75" width="9.1" height="9.1" fill="none" stroke="#8e8e8e" stroke-width="2.0"/><rect x="600.68" y="564.25" width="9.1" height="9.1" fill="none" stroke="#8e8e8e" stroke-width="2.0"/><rect x="612.56" y="564.25" width="9.1" height="9.1" fill="none" stroke="#8e8e8e" stroke-width="2.0"/><rect x="624.44" y="566.15" width="9.1" height="9.1" fill="none" stroke="#8e8e8e" stroke-width="2.0"/><rect x="636.32" y="565.45" width="9.1" height="9.1" fill="none" stroke="#8e8e8e" stroke-width="2.0"/><rect x="648.19" y="564.25" width="9.1" height="9.1" fill="none" stroke="#8e8e8e" stroke-width="2.0"/><rect x="660.07" y="563.15" width="9.1" height="9.1" fill="none" stroke="#8e8e8e" stroke-width="2.0"/><rect x="671.95" y="565.25" width="9.1" height="9.1" fill="none" stroke="#8e8e8e" stroke-width="2.0"/><rect x="683.83" y="566.15" width="9.1" height="9.1" fill="none" stroke="#8e8e8e" stroke-width="2.0"/><rect x="695.71" y="564.25" width="9.1" height="9.1" fill="none" stroke="#8e8e8e" stroke-width="2.0"/><rect x="707.58" y="565.25" width="9.1" height="9.1" fill="none" stroke="#8e8e8e" stroke-width="2.0"/><rect x="719.46" y="566.15" width="9.1" height="9.1" fill="none" stroke="#8e8e8e" stroke-width="2.0"/><rect x="731.34" y="565.25" width="9.1" height="9.1" fill="none" stroke="#8e8e8e" stroke-width="2.0"/><rect x="743.22" y="565.75" width="9.1" height="9.1" fill="none" stroke="#8e8e8e" stroke-width="2.0"/><rect x="755.1" y="563.65" width="9.1" height="9.1" fill="none" stroke="#8e8e8e" stroke-width="2.0"/><rect x="766.97" y="564.25" width="9.1" height="9.1" fill="none" stroke="#8e8e8e" stroke-width="2.0"/><rect x="778.85" y="575.55" width="9.1" height="9.1" fill="none" stroke="#8e8e8e" stroke-width="2.0"/>
<polyline points="82.6,651.4 94.48,646.4 106.36,642.6 118.23,629.5 130.11,620 141.99,615 153.87,610.1 165.75,603.2 177.62,599.4 189.5,594.4 201.38,587.5 213.26,591.3 225.14,585 237.01,582.8 248.89,576.9 260.77,578.8 272.65,572.8 284.53,580.1 296.4,570.1 308.28,565.3 320.16,567.5 332.04,564.4 343.92,567.5 355.79,566.3 367.67,570.1 379.55,563.8 391.43,558.8 403.31,554.4 415.18,545.6 427.06,542.5 438.94,537.5 450.82,538.1 462.7,532.8 474.57,533.8 486.45,528.8 498.33,532.3 510.21,533.8 522.09,530 533.96,531.9 545.84,533.8 557.72,540 569.6,539 581.48,537.8 593.35,537.8 605.23,538.5 617.11,537.8 628.99,537.8 640.87,539 652.74,537.8 664.62,537.8 676.5,538.9 688.38,539.9 700.26,538.9 712.13,537.4 724.01,536.4 735.89,537.9 747.77,538.2 759.65,535.4 771.52,535.7 783.4,536.1" fill="none" stroke="#8e8e8e" stroke-width="1.7" stroke-linejoin="round"/>
<path d="M82.6 646.55L87.45 651.4L82.6 656.25L77.75 651.4Z" fill="none" stroke="#8e8e8e" stroke-width="1.9"/><path d="M94.48 641.55L99.33 646.4L94.48 651.25L89.63 646.4Z" fill="none" stroke="#8e8e8e" stroke-width="1.9"/><path d="M106.36 637.75L111.21 642.6L106.36 647.45L101.51 642.6Z" fill="none" stroke="#8e8e8e" stroke-width="1.9"/><path d="M118.23 624.65L123.08 629.5L118.23 634.35L113.38 629.5Z" fill="none" stroke="#8e8e8e" stroke-width="1.9"/><path d="M130.11 615.15L134.96 620L130.11 624.85L125.26 620Z" fill="none" stroke="#8e8e8e" stroke-width="1.9"/><path d="M141.99 610.15L146.84 615L141.99 619.85L137.14 615Z" fill="none" stroke="#8e8e8e" stroke-width="1.9"/><path d="M153.87 605.25L158.72 610.1L153.87 614.95L149.02 610.1Z" fill="none" stroke="#8e8e8e" stroke-width="1.9"/><path d="M165.75 598.35L170.6 603.2L165.75 608.05L160.9 603.2Z" fill="none" stroke="#8e8e8e" stroke-width="1.9"/><path d="M177.62 594.55L182.47 599.4L177.62 604.25L172.77 599.4Z" fill="none" stroke="#8e8e8e" stroke-width="1.9"/><path d="M189.5 589.55L194.35 594.4L189.5 599.25L184.65 594.4Z" fill="none" stroke="#8e8e8e" stroke-width="1.9"/><path d="M201.38 582.65L206.23 587.5L201.38 592.35L196.53 587.5Z" fill="none" stroke="#8e8e8e" stroke-width="1.9"/><path d="M213.26 586.45L218.11 591.3L213.26 596.15L208.41 591.3Z" fill="none" stroke="#8e8e8e" stroke-width="1.9"/><path d="M225.14 580.15L229.99 585L225.14 589.85L220.29 585Z" fill="none" stroke="#8e8e8e" stroke-width="1.9"/><path d="M237.01 577.95L241.86 582.8L237.01 587.65L232.16 582.8Z" fill="none" stroke="#8e8e8e" stroke-width="1.9"/><path d="M248.89 572.05L253.74 576.9L248.89 581.75L244.04 576.9Z" fill="none" stroke="#8e8e8e" stroke-width="1.9"/><path d="M260.77 573.95L265.62 578.8L260.77 583.65L255.92 578.8Z" fill="none" stroke="#8e8e8e" stroke-width="1.9"/><path d="M272.65 567.95L277.5 572.8L272.65 577.65L267.8 572.8Z" fill="none" stroke="#8e8e8e" stroke-width="1.9"/><path d="M284.53 575.25L289.38 580.1L284.53 584.95L279.68 580.1Z" fill="none" stroke="#8e8e8e" stroke-width="1.9"/><path d="M296.4 565.25L301.25 570.1L296.4 574.95L291.55 570.1Z" fill="none" stroke="#8e8e8e" stroke-width="1.9"/><path d="M308.28 560.45L313.13 565.3L308.28 570.15L303.43 565.3Z" fill="none" stroke="#8e8e8e" stroke-width="1.9"/><path d="M320.16 562.65L325.01 567.5L320.16 572.35L315.31 567.5Z" fill="none" stroke="#8e8e8e" stroke-width="1.9"/><path d="M332.04 559.55L336.89 564.4L332.04 569.25L327.19 564.4Z" fill="none" stroke="#8e8e8e" stroke-width="1.9"/><path d="M343.92 562.65L348.77 567.5L343.92 572.35L339.07 567.5Z" fill="none" stroke="#8e8e8e" stroke-width="1.9"/><path d="M355.79 561.45L360.64 566.3L355.79 571.15L350.94 566.3Z" fill="none" stroke="#8e8e8e" stroke-width="1.9"/><path d="M367.67 565.25L372.52 570.1L367.67 574.95L362.82 570.1Z" fill="none" stroke="#8e8e8e" stroke-width="1.9"/><path d="M379.55 558.95L384.4 563.8L379.55 568.65L374.7 563.8Z" fill="none" stroke="#8e8e8e" stroke-width="1.9"/><path d="M391.43 553.95L396.28 558.8L391.43 563.65L386.58 558.8Z" fill="none" stroke="#8e8e8e" stroke-width="1.9"/><path d="M403.31 549.55L408.16 554.4L403.31 559.25L398.46 554.4Z" fill="none" stroke="#8e8e8e" stroke-width="1.9"/><path d="M415.18 540.75L420.03 545.6L415.18 550.45L410.33 545.6Z" fill="none" stroke="#8e8e8e" stroke-width="1.9"/><path d="M427.06 537.65L431.91 542.5L427.06 547.35L422.21 542.5Z" fill="none" stroke="#8e8e8e" stroke-width="1.9"/><path d="M438.94 532.65L443.79 537.5L438.94 542.35L434.09 537.5Z" fill="none" stroke="#8e8e8e" stroke-width="1.9"/><path d="M450.82 533.25L455.67 538.1L450.82 542.95L445.97 538.1Z" fill="none" stroke="#8e8e8e" stroke-width="1.9"/><path d="M462.7 527.95L467.55 532.8L462.7 537.65L457.85 532.8Z" fill="none" stroke="#8e8e8e" stroke-width="1.9"/><path d="M474.57 528.95L479.42 533.8L474.57 538.65L469.72 533.8Z" fill="none" stroke="#8e8e8e" stroke-width="1.9"/><path d="M486.45 523.95L491.3 528.8L486.45 533.65L481.6 528.8Z" fill="none" stroke="#8e8e8e" stroke-width="1.9"/><path d="M498.33 527.45L503.18 532.3L498.33 537.15L493.48 532.3Z" fill="none" stroke="#8e8e8e" stroke-width="1.9"/><path d="M510.21 528.95L515.06 533.8L510.21 538.65L505.36 533.8Z" fill="none" stroke="#8e8e8e" stroke-width="1.9"/><path d="M522.09 525.15L526.94 530L522.09 534.85L517.24 530Z" fill="none" stroke="#8e8e8e" stroke-width="1.9"/><path d="M533.96 527.05L538.81 531.9L533.96 536.75L529.11 531.9Z" fill="none" stroke="#8e8e8e" stroke-width="1.9"/><path d="M545.84 528.95L550.69 533.8L545.84 538.65L540.99 533.8Z" fill="none" stroke="#8e8e8e" stroke-width="1.9"/><path d="M557.72 535.15L562.57 540L557.72 544.85L552.87 540Z" fill="none" stroke="#8e8e8e" stroke-width="1.9"/><path d="M569.6 534.15L574.45 539L569.6 543.85L564.75 539Z" fill="none" stroke="#8e8e8e" stroke-width="1.9"/><path d="M581.48 532.95L586.33 537.8L581.48 542.65L576.63 537.8Z" fill="none" stroke="#8e8e8e" stroke-width="1.9"/><path d="M593.35 532.95L598.2 537.8L593.35 542.65L588.5 537.8Z" fill="none" stroke="#8e8e8e" stroke-width="1.9"/><path d="M605.23 533.65L610.08 538.5L605.23 543.35L600.38 538.5Z" fill="none" stroke="#8e8e8e" stroke-width="1.9"/><path d="M617.11 532.95L621.96 537.8L617.11 542.65L612.26 537.8Z" fill="none" stroke="#8e8e8e" stroke-width="1.9"/><path d="M628.99 532.95L633.84 537.8L628.99 542.65L624.14 537.8Z" fill="none" stroke="#8e8e8e" stroke-width="1.9"/><path d="M640.87 534.15L645.72 539L640.87 543.85L636.02 539Z" fill="none" stroke="#8e8e8e" stroke-width="1.9"/><path d="M652.74 532.95L657.59 537.8L652.74 542.65L647.89 537.8Z" fill="none" stroke="#8e8e8e" stroke-width="1.9"/><path d="M664.62 532.95L669.47 537.8L664.62 542.65L659.77 537.8Z" fill="none" stroke="#8e8e8e" stroke-width="1.9"/><path d="M676.5 534.05L681.35 538.9L676.5 543.75L671.65 538.9Z" fill="none" stroke="#8e8e8e" stroke-width="1.9"/><path d="M688.38 535.05L693.23 539.9L688.38 544.75L683.53 539.9Z" fill="none" stroke="#8e8e8e" stroke-width="1.9"/><path d="M700.26 534.05L705.11 538.9L700.26 543.75L695.41 538.9Z" fill="none" stroke="#8e8e8e" stroke-width="1.9"/><path d="M712.13 532.55L716.98 537.4L712.13 542.25L707.28 537.4Z" fill="none" stroke="#8e8e8e" stroke-width="1.9"/><path d="M724.01 531.55L728.86 536.4L724.01 541.25L719.16 536.4Z" fill="none" stroke="#8e8e8e" stroke-width="1.9"/><path d="M735.89 533.05L740.74 537.9L735.89 542.75L731.04 537.9Z" fill="none" stroke="#8e8e8e" stroke-width="1.9"/><path d="M747.77 533.35L752.62 538.2L747.77 543.05L742.92 538.2Z" fill="none" stroke="#8e8e8e" stroke-width="1.9"/><path d="M759.65 530.55L764.5 535.4L759.65 540.25L754.8 535.4Z" fill="none" stroke="#8e8e8e" stroke-width="1.9"/><path d="M771.52 530.85L776.37 535.7L771.52 540.55L766.67 535.7Z" fill="none" stroke="#8e8e8e" stroke-width="1.9"/><path d="M783.4 531.25L788.25 536.1L783.4 540.95L778.55 536.1Z" fill="none" stroke="#8e8e8e" stroke-width="1.9"/>
<polyline points="82.6,633 94.48,626.3 106.36,623.2 118.23,615.7 130.11,615.3 141.99,614.5 153.87,613.2 165.75,610.7 177.62,611.3 189.5,611.3 201.38,607.6 213.26,604.4 225.14,605.7 237.01,608.2 248.89,610.7 260.77,610 272.65,608.2 284.53,608.2 296.4,606.3 308.28,605 320.16,601.3 332.04,602.6 343.92,602 355.79,602.6 367.67,605.7 379.55,608.8 391.43,605.7 403.31,605.7 415.18,599.5 427.06,597 438.94,598.8 450.82,595.1 462.7,596.3 474.57,596.4 486.45,593.9 498.33,595.1 510.21,596.4 522.09,593.2 533.96,592.6 545.84,592.6 557.72,591.4 569.6,591.4 581.48,593.2 593.35,594.5 605.23,592.6 617.11,590.7 628.99,591.4 640.87,591.4 652.74,589.5 664.62,589.2 676.5,590.1 688.38,591.4 700.26,591.4 712.13,592 724.01,592.6 735.89,590.1 747.77,590.1 759.65,590.1 771.52,590.1 783.4,590.7" fill="none" stroke="#050708" stroke-width="2.0" stroke-linejoin="round"/>
<path d="M82.6 628.86L87.1 637.14L78.1 637.14Z" fill="#050708"/><path d="M94.48 622.16L98.98 630.44L89.98 630.44Z" fill="#050708"/><path d="M106.36 619.06L110.86 627.34L101.86 627.34Z" fill="#050708"/><path d="M118.23 611.56L122.73 619.84L113.73 619.84Z" fill="#050708"/><path d="M130.11 611.16L134.61 619.44L125.61 619.44Z" fill="#050708"/><path d="M141.99 610.36L146.49 618.64L137.49 618.64Z" fill="#050708"/><path d="M153.87 609.06L158.37 617.34L149.37 617.34Z" fill="#050708"/><path d="M165.75 606.56L170.25 614.84L161.25 614.84Z" fill="#050708"/><path d="M177.62 607.16L182.12 615.44L173.12 615.44Z" fill="#050708"/><path d="M189.5 607.16L194 615.44L185 615.44Z" fill="#050708"/><path d="M201.38 603.46L205.88 611.74L196.88 611.74Z" fill="#050708"/><path d="M213.26 600.26L217.76 608.54L208.76 608.54Z" fill="#050708"/><path d="M225.14 601.56L229.64 609.84L220.64 609.84Z" fill="#050708"/><path d="M237.01 604.06L241.51 612.34L232.51 612.34Z" fill="#050708"/><path d="M248.89 606.56L253.39 614.84L244.39 614.84Z" fill="#050708"/><path d="M260.77 605.86L265.27 614.14L256.27 614.14Z" fill="#050708"/><path d="M272.65 604.06L277.15 612.34L268.15 612.34Z" fill="#050708"/><path d="M284.53 604.06L289.03 612.34L280.03 612.34Z" fill="#050708"/><path d="M296.4 602.16L300.9 610.44L291.9 610.44Z" fill="#050708"/><path d="M308.28 600.86L312.78 609.14L303.78 609.14Z" fill="#050708"/><path d="M320.16 597.16L324.66 605.44L315.66 605.44Z" fill="#050708"/><path d="M332.04 598.46L336.54 606.74L327.54 606.74Z" fill="#050708"/><path d="M343.92 597.86L348.42 606.14L339.42 606.14Z" fill="#050708"/><path d="M355.79 598.46L360.29 606.74L351.29 606.74Z" fill="#050708"/><path d="M367.67 601.56L372.17 609.84L363.17 609.84Z" fill="#050708"/><path d="M379.55 604.66L384.05 612.94L375.05 612.94Z" fill="#050708"/><path d="M391.43 601.56L395.93 609.84L386.93 609.84Z" fill="#050708"/><path d="M403.31 601.56L407.81 609.84L398.81 609.84Z" fill="#050708"/><path d="M415.18 595.36L419.68 603.64L410.68 603.64Z" fill="#050708"/><path d="M427.06 592.86L431.56 601.14L422.56 601.14Z" fill="#050708"/><path d="M438.94 594.66L443.44 602.94L434.44 602.94Z" fill="#050708"/><path d="M450.82 590.96L455.32 599.24L446.32 599.24Z" fill="#050708"/><path d="M462.7 592.16L467.2 600.44L458.2 600.44Z" fill="#050708"/><path d="M474.57 592.26L479.07 600.54L470.07 600.54Z" fill="#050708"/><path d="M486.45 589.76L490.95 598.04L481.95 598.04Z" fill="#050708"/><path d="M498.33 590.96L502.83 599.24L493.83 599.24Z" fill="#050708"/><path d="M510.21 592.26L514.71 600.54L505.71 600.54Z" fill="#050708"/><path d="M522.09 589.06L526.59 597.34L517.59 597.34Z" fill="#050708"/><path d="M533.96 588.46L538.46 596.74L529.46 596.74Z" fill="#050708"/><path d="M545.84 588.46L550.34 596.74L541.34 596.74Z" fill="#050708"/><path d="M557.72 587.26L562.22 595.54L553.22 595.54Z" fill="#050708"/><path d="M569.6 587.26L574.1 595.54L565.1 595.54Z" fill="#050708"/><path d="M581.48 589.06L585.98 597.34L576.98 597.34Z" fill="#050708"/><path d="M593.35 590.36L597.85 598.64L588.85 598.64Z" fill="#050708"/><path d="M605.23 588.46L609.73 596.74L600.73 596.74Z" fill="#050708"/><path d="M617.11 586.56L621.61 594.84L612.61 594.84Z" fill="#050708"/><path d="M628.99 587.26L633.49 595.54L624.49 595.54Z" fill="#050708"/><path d="M640.87 587.26L645.37 595.54L636.37 595.54Z" fill="#050708"/><path d="M652.74 585.36L657.24 593.64L648.24 593.64Z" fill="#050708"/><path d="M664.62 585.06L669.12 593.34L660.12 593.34Z" fill="#050708"/><path d="M676.5 585.96L681 594.24L672 594.24Z" fill="#050708"/><path d="M688.38 587.26L692.88 595.54L683.88 595.54Z" fill="#050708"/><path d="M700.26 587.26L704.76 595.54L695.76 595.54Z" fill="#050708"/><path d="M712.13 587.86L716.63 596.14L707.63 596.14Z" fill="#050708"/><path d="M724.01 588.46L728.51 596.74L719.51 596.74Z" fill="#050708"/><path d="M735.89 585.96L740.39 594.24L731.39 594.24Z" fill="#050708"/><path d="M747.77 585.96L752.27 594.24L743.27 594.24Z" fill="#050708"/><path d="M759.65 585.96L764.15 594.24L755.15 594.24Z" fill="#050708"/><path d="M771.52 585.96L776.02 594.24L767.02 594.24Z" fill="#050708"/><path d="M783.4 586.56L787.9 594.84L778.9 594.84Z" fill="#050708"/>
<polyline points="82.6,635.1 94.48,632 106.36,627.6 118.23,620.1 130.11,617.6 141.99,624.5 153.87,625.1 165.75,615.1 177.62,617 189.5,618.2 201.38,615.7 213.26,609.8 225.14,613.8 237.01,612.6 248.89,613.2 260.77,608.8 272.65,607.3 284.53,606.3 296.4,603.8 308.28,605.1 320.16,603.2 332.04,605.7 343.92,603.8 355.79,603.2 367.67,604.8 379.55,605.7 391.43,604.5 403.31,603.8 415.18,583.8 427.06,583.8 438.94,588.2 450.82,589.4 462.7,592.3 474.57,593.2 486.45,591.4 498.33,593.2 510.21,591.4 522.09,592 533.96,594.5 545.84,593.9 557.72,595.1 569.6,593.9 581.48,597.6 593.35,594.5 605.23,595.1 617.11,596.4 628.99,596.4 640.87,595.4 652.74,594.8 664.62,593 676.5,593.2 688.38,592 700.26,592.6 712.13,591.4 724.01,590.7 735.89,593.2 747.77,592.6 759.65,592 771.52,591.4 783.4,591.4" fill="none" stroke="#050708" stroke-width="2.0" stroke-linejoin="round"/>
<circle cx="82.6" cy="635.1" r="4.6" fill="#050708"/><circle cx="94.48" cy="632" r="4.6" fill="#050708"/><circle cx="106.36" cy="627.6" r="4.6" fill="#050708"/><circle cx="118.23" cy="620.1" r="4.6" fill="#050708"/><circle cx="130.11" cy="617.6" r="4.6" fill="#050708"/><circle cx="141.99" cy="624.5" r="4.6" fill="#050708"/><circle cx="153.87" cy="625.1" r="4.6" fill="#050708"/><circle cx="165.75" cy="615.1" r="4.6" fill="#050708"/><circle cx="177.62" cy="617" r="4.6" fill="#050708"/><circle cx="189.5" cy="618.2" r="4.6" fill="#050708"/><circle cx="201.38" cy="615.7" r="4.6" fill="#050708"/><circle cx="213.26" cy="609.8" r="4.6" fill="#050708"/><circle cx="225.14" cy="613.8" r="4.6" fill="#050708"/><circle cx="237.01" cy="612.6" r="4.6" fill="#050708"/><circle cx="248.89" cy="613.2" r="4.6" fill="#050708"/><circle cx="260.77" cy="608.8" r="4.6" fill="#050708"/><circle cx="272.65" cy="607.3" r="4.6" fill="#050708"/><circle cx="284.53" cy="606.3" r="4.6" fill="#050708"/><circle cx="296.4" cy="603.8" r="4.6" fill="#050708"/><circle cx="308.28" cy="605.1" r="4.6" fill="#050708"/><circle cx="320.16" cy="603.2" r="4.6" fill="#050708"/><circle cx="332.04" cy="605.7" r="4.6" fill="#050708"/><circle cx="343.92" cy="603.8" r="4.6" fill="#050708"/><circle cx="355.79" cy="603.2" r="4.6" fill="#050708"/><circle cx="367.67" cy="604.8" r="4.6" fill="#050708"/><circle cx="379.55" cy="605.7" r="4.6" fill="#050708"/><circle cx="391.43" cy="604.5" r="4.6" fill="#050708"/><circle cx="403.31" cy="603.8" r="4.6" fill="#050708"/><circle cx="415.18" cy="583.8" r="4.6" fill="#050708"/><circle cx="427.06" cy="583.8" r="4.6" fill="#050708"/><circle cx="438.94" cy="588.2" r="4.6" fill="#050708"/><circle cx="450.82" cy="589.4" r="4.6" fill="#050708"/><circle cx="462.7" cy="592.3" r="4.6" fill="#050708"/><circle cx="474.57" cy="593.2" r="4.6" fill="#050708"/><circle cx="486.45" cy="591.4" r="4.6" fill="#050708"/><circle cx="498.33" cy="593.2" r="4.6" fill="#050708"/><circle cx="510.21" cy="591.4" r="4.6" fill="#050708"/><circle cx="522.09" cy="592" r="4.6" fill="#050708"/><circle cx="533.96" cy="594.5" r="4.6" fill="#050708"/><circle cx="545.84" cy="593.9" r="4.6" fill="#050708"/><circle cx="557.72" cy="595.1" r="4.6" fill="#050708"/><circle cx="569.6" cy="593.9" r="4.6" fill="#050708"/><circle cx="581.48" cy="597.6" r="4.6" fill="#050708"/><circle cx="593.35" cy="594.5" r="4.6" fill="#050708"/><circle cx="605.23" cy="595.1" r="4.6" fill="#050708"/><circle cx="617.11" cy="596.4" r="4.6" fill="#050708"/><circle cx="628.99" cy="596.4" r="4.6" fill="#050708"/><circle cx="640.87" cy="595.4" r="4.6" fill="#050708"/><circle cx="652.74" cy="594.8" r="4.6" fill="#050708"/><circle cx="664.62" cy="593" r="4.6" fill="#050708"/><circle cx="676.5" cy="593.2" r="4.6" fill="#050708"/><circle cx="688.38" cy="592" r="4.6" fill="#050708"/><circle cx="700.26" cy="592.6" r="4.6" fill="#050708"/><circle cx="712.13" cy="591.4" r="4.6" fill="#050708"/><circle cx="724.01" cy="590.7" r="4.6" fill="#050708"/><circle cx="735.89" cy="593.2" r="4.6" fill="#050708"/><circle cx="747.77" cy="592.6" r="4.6" fill="#050708"/><circle cx="759.65" cy="592" r="4.6" fill="#050708"/><circle cx="771.52" cy="591.4" r="4.6" fill="#050708"/><circle cx="783.4" cy="591.4" r="4.6" fill="#050708"/>
<polyline points="82.6,629 94.48,611 106.36,598.5 118.23,578.5 130.11,571.3 141.99,560 153.87,548 165.75,540.4 177.62,532.4 189.5,524.8 201.38,518.6 213.26,515.1 225.14,517 237.01,517.6 248.89,515.7 260.77,515.3 272.65,512 284.53,513.6 296.4,508.6 308.28,509.4 320.16,496.6 332.04,496.9 343.92,496.6 355.79,496.9 367.67,498.2 379.55,495.1 391.43,490.7 403.31,486.5 415.18,480.4 427.06,475.7 438.94,471.5 450.82,473.8 462.7,468.5 474.57,473.8 486.45,466.5 498.33,473.2 510.21,475.7 522.09,476.3 533.96,475 545.84,476.9 557.72,476.3 569.6,478.2 581.48,478.8 593.35,479.4 605.23,479 617.11,478.8 628.99,479.4 640.87,478.5 652.74,476.6 664.62,478.3 676.5,477.3 688.38,476.3 700.26,475.7 712.13,476 724.01,474.4 735.89,475.7 747.77,475.7 759.65,476.3 771.52,475.7 783.4,476.9" fill="none" stroke="#050708" stroke-width="2.0" stroke-linejoin="round"/>
<path d="M82.6 624L87.6 629L82.6 634L77.6 629Z" fill="#050708"/><path d="M94.48 606L99.48 611L94.48 616L89.48 611Z" fill="#050708"/><path d="M106.36 593.5L111.36 598.5L106.36 603.5L101.36 598.5Z" fill="#050708"/><path d="M118.23 573.5L123.23 578.5L118.23 583.5L113.23 578.5Z" fill="#050708"/><path d="M130.11 566.3L135.11 571.3L130.11 576.3L125.11 571.3Z" fill="#050708"/><path d="M141.99 555L146.99 560L141.99 565L136.99 560Z" fill="#050708"/><path d="M153.87 543L158.87 548L153.87 553L148.87 548Z" fill="#050708"/><path d="M165.75 535.4L170.75 540.4L165.75 545.4L160.75 540.4Z" fill="#050708"/><path d="M177.62 527.4L182.62 532.4L177.62 537.4L172.62 532.4Z" fill="#050708"/><path d="M189.5 519.8L194.5 524.8L189.5 529.8L184.5 524.8Z" fill="#050708"/><path d="M201.38 513.6L206.38 518.6L201.38 523.6L196.38 518.6Z" fill="#050708"/><path d="M213.26 510.1L218.26 515.1L213.26 520.1L208.26 515.1Z" fill="#050708"/><path d="M225.14 512L230.14 517L225.14 522L220.14 517Z" fill="#050708"/><path d="M237.01 512.6L242.01 517.6L237.01 522.6L232.01 517.6Z" fill="#050708"/><path d="M248.89 510.7L253.89 515.7L248.89 520.7L243.89 515.7Z" fill="#050708"/><path d="M260.77 510.3L265.77 515.3L260.77 520.3L255.77 515.3Z" fill="#050708"/><path d="M272.65 507L277.65 512L272.65 517L267.65 512Z" fill="#050708"/><path d="M284.53 508.6L289.53 513.6L284.53 518.6L279.53 513.6Z" fill="#050708"/><path d="M296.4 503.6L301.4 508.6L296.4 513.6L291.4 508.6Z" fill="#050708"/><path d="M308.28 504.4L313.28 509.4L308.28 514.4L303.28 509.4Z" fill="#050708"/><path d="M320.16 491.6L325.16 496.6L320.16 501.6L315.16 496.6Z" fill="#050708"/><path d="M332.04 491.9L337.04 496.9L332.04 501.9L327.04 496.9Z" fill="#050708"/><path d="M343.92 491.6L348.92 496.6L343.92 501.6L338.92 496.6Z" fill="#050708"/><path d="M355.79 491.9L360.79 496.9L355.79 501.9L350.79 496.9Z" fill="#050708"/><path d="M367.67 493.2L372.67 498.2L367.67 503.2L362.67 498.2Z" fill="#050708"/><path d="M379.55 490.1L384.55 495.1L379.55 500.1L374.55 495.1Z" fill="#050708"/><path d="M391.43 485.7L396.43 490.7L391.43 495.7L386.43 490.7Z" fill="#050708"/><path d="M403.31 481.5L408.31 486.5L403.31 491.5L398.31 486.5Z" fill="#050708"/><path d="M415.18 475.4L420.18 480.4L415.18 485.4L410.18 480.4Z" fill="#050708"/><path d="M427.06 470.7L432.06 475.7L427.06 480.7L422.06 475.7Z" fill="#050708"/><path d="M438.94 466.5L443.94 471.5L438.94 476.5L433.94 471.5Z" fill="#050708"/><path d="M450.82 468.8L455.82 473.8L450.82 478.8L445.82 473.8Z" fill="#050708"/><path d="M462.7 463.5L467.7 468.5L462.7 473.5L457.7 468.5Z" fill="#050708"/><path d="M474.57 468.8L479.57 473.8L474.57 478.8L469.57 473.8Z" fill="#050708"/><path d="M486.45 461.5L491.45 466.5L486.45 471.5L481.45 466.5Z" fill="#050708"/><path d="M498.33 468.2L503.33 473.2L498.33 478.2L493.33 473.2Z" fill="#050708"/><path d="M510.21 470.7L515.21 475.7L510.21 480.7L505.21 475.7Z" fill="#050708"/><path d="M522.09 471.3L527.09 476.3L522.09 481.3L517.09 476.3Z" fill="#050708"/><path d="M533.96 470L538.96 475L533.96 480L528.96 475Z" fill="#050708"/><path d="M545.84 471.9L550.84 476.9L545.84 481.9L540.84 476.9Z" fill="#050708"/><path d="M557.72 471.3L562.72 476.3L557.72 481.3L552.72 476.3Z" fill="#050708"/><path d="M569.6 473.2L574.6 478.2L569.6 483.2L564.6 478.2Z" fill="#050708"/><path d="M581.48 473.8L586.48 478.8L581.48 483.8L576.48 478.8Z" fill="#050708"/><path d="M593.35 474.4L598.35 479.4L593.35 484.4L588.35 479.4Z" fill="#050708"/><path d="M605.23 474L610.23 479L605.23 484L600.23 479Z" fill="#050708"/><path d="M617.11 473.8L622.11 478.8L617.11 483.8L612.11 478.8Z" fill="#050708"/><path d="M628.99 474.4L633.99 479.4L628.99 484.4L623.99 479.4Z" fill="#050708"/><path d="M640.87 473.5L645.87 478.5L640.87 483.5L635.87 478.5Z" fill="#050708"/><path d="M652.74 471.6L657.74 476.6L652.74 481.6L647.74 476.6Z" fill="#050708"/><path d="M664.62 473.3L669.62 478.3L664.62 483.3L659.62 478.3Z" fill="#050708"/><path d="M676.5 472.3L681.5 477.3L676.5 482.3L671.5 477.3Z" fill="#050708"/><path d="M688.38 471.3L693.38 476.3L688.38 481.3L683.38 476.3Z" fill="#050708"/><path d="M700.26 470.7L705.26 475.7L700.26 480.7L695.26 475.7Z" fill="#050708"/><path d="M712.13 471L717.13 476L712.13 481L707.13 476Z" fill="#050708"/><path d="M724.01 469.4L729.01 474.4L724.01 479.4L719.01 474.4Z" fill="#050708"/><path d="M735.89 470.7L740.89 475.7L735.89 480.7L730.89 475.7Z" fill="#050708"/><path d="M747.77 470.7L752.77 475.7L747.77 480.7L742.77 475.7Z" fill="#050708"/><path d="M759.65 471.3L764.65 476.3L759.65 481.3L754.65 476.3Z" fill="#050708"/><path d="M771.52 470.7L776.52 475.7L771.52 480.7L766.52 475.7Z" fill="#050708"/><path d="M783.4 471.9L788.4 476.9L783.4 481.9L778.4 476.9Z" fill="#050708"/>
<polyline points="82.6,628.2 94.48,610.7 106.36,596.9 118.23,586.7 130.11,576.6 141.99,549.6 153.87,560.7 165.75,553 177.62,550.3 189.5,541.6 201.38,535.1 213.26,532 225.14,530.1 237.01,532.6 248.89,529.1 260.77,533.2 272.65,537.4 284.53,537.2 296.4,530.1 308.28,531.1 320.16,508.4 332.04,519.1 343.92,508.4 355.79,507.6 367.67,508.8 379.55,498.2 391.43,501.1 403.31,499.8 415.18,494.4 427.06,495.7 438.94,489.2 450.82,488.8 462.7,489.5 474.57,490.1 486.45,483.2 498.33,486.1 510.21,487.3 522.09,487.6 533.96,487.3 545.84,489.1 557.72,486.1 569.6,484.4 581.48,487.3 593.35,486.9 605.23,486.3 617.11,483.2 628.99,484.8 640.87,485 652.74,483.2 664.62,484 676.5,484.4 688.38,484.8 700.26,484.8 712.13,484.8 724.01,486.3 735.89,484.1 747.77,484.4 759.65,485.1 771.52,484.4 783.4,484.8" fill="none" stroke="#050708" stroke-width="2.0" stroke-linejoin="round"/>
<rect x="77.95" y="623.55" width="9.3" height="9.3" fill="#050708"/><rect x="89.83" y="606.05" width="9.3" height="9.3" fill="#050708"/><rect x="101.71" y="592.25" width="9.3" height="9.3" fill="#050708"/><rect x="113.58" y="582.05" width="9.3" height="9.3" fill="#050708"/><rect x="125.46" y="571.95" width="9.3" height="9.3" fill="#050708"/><rect x="137.34" y="544.95" width="9.3" height="9.3" fill="#050708"/><rect x="149.22" y="556.05" width="9.3" height="9.3" fill="#050708"/><rect x="161.1" y="548.35" width="9.3" height="9.3" fill="#050708"/><rect x="172.97" y="545.65" width="9.3" height="9.3" fill="#050708"/><rect x="184.85" y="536.95" width="9.3" height="9.3" fill="#050708"/><rect x="196.73" y="530.45" width="9.3" height="9.3" fill="#050708"/><rect x="208.61" y="527.35" width="9.3" height="9.3" fill="#050708"/><rect x="220.49" y="525.45" width="9.3" height="9.3" fill="#050708"/><rect x="232.36" y="527.95" width="9.3" height="9.3" fill="#050708"/><rect x="244.24" y="524.45" width="9.3" height="9.3" fill="#050708"/><rect x="256.12" y="528.55" width="9.3" height="9.3" fill="#050708"/><rect x="268" y="532.75" width="9.3" height="9.3" fill="#050708"/><rect x="279.88" y="532.55" width="9.3" height="9.3" fill="#050708"/><rect x="291.75" y="525.45" width="9.3" height="9.3" fill="#050708"/><rect x="303.63" y="526.45" width="9.3" height="9.3" fill="#050708"/><rect x="315.51" y="503.75" width="9.3" height="9.3" fill="#050708"/><rect x="327.39" y="514.45" width="9.3" height="9.3" fill="#050708"/><rect x="339.27" y="503.75" width="9.3" height="9.3" fill="#050708"/><rect x="351.14" y="502.95" width="9.3" height="9.3" fill="#050708"/><rect x="363.02" y="504.15" width="9.3" height="9.3" fill="#050708"/><rect x="374.9" y="493.55" width="9.3" height="9.3" fill="#050708"/><rect x="386.78" y="496.45" width="9.3" height="9.3" fill="#050708"/><rect x="398.66" y="495.15" width="9.3" height="9.3" fill="#050708"/><rect x="410.53" y="489.75" width="9.3" height="9.3" fill="#050708"/><rect x="422.41" y="491.05" width="9.3" height="9.3" fill="#050708"/><rect x="434.29" y="484.55" width="9.3" height="9.3" fill="#050708"/><rect x="446.17" y="484.15" width="9.3" height="9.3" fill="#050708"/><rect x="458.05" y="484.85" width="9.3" height="9.3" fill="#050708"/><rect x="469.92" y="485.45" width="9.3" height="9.3" fill="#050708"/><rect x="481.8" y="478.55" width="9.3" height="9.3" fill="#050708"/><rect x="493.68" y="481.45" width="9.3" height="9.3" fill="#050708"/><rect x="505.56" y="482.65" width="9.3" height="9.3" fill="#050708"/><rect x="517.44" y="482.95" width="9.3" height="9.3" fill="#050708"/><rect x="529.31" y="482.65" width="9.3" height="9.3" fill="#050708"/><rect x="541.19" y="484.45" width="9.3" height="9.3" fill="#050708"/><rect x="553.07" y="481.45" width="9.3" height="9.3" fill="#050708"/><rect x="564.95" y="479.75" width="9.3" height="9.3" fill="#050708"/><rect x="576.83" y="482.65" width="9.3" height="9.3" fill="#050708"/><rect x="588.7" y="482.25" width="9.3" height="9.3" fill="#050708"/><rect x="600.58" y="481.65" width="9.3" height="9.3" fill="#050708"/><rect x="612.46" y="478.55" width="9.3" height="9.3" fill="#050708"/><rect x="624.34" y="480.15" width="9.3" height="9.3" fill="#050708"/><rect x="636.22" y="480.35" width="9.3" height="9.3" fill="#050708"/><rect x="648.09" y="478.55" width="9.3" height="9.3" fill="#050708"/><rect x="659.97" y="479.35" width="9.3" height="9.3" fill="#050708"/><rect x="671.85" y="479.75" width="9.3" height="9.3" fill="#050708"/><rect x="683.73" y="480.15" width="9.3" height="9.3" fill="#050708"/><rect x="695.61" y="480.15" width="9.3" height="9.3" fill="#050708"/><rect x="707.48" y="480.15" width="9.3" height="9.3" fill="#050708"/><rect x="719.36" y="481.65" width="9.3" height="9.3" fill="#050708"/><rect x="731.24" y="479.45" width="9.3" height="9.3" fill="#050708"/><rect x="743.12" y="479.75" width="9.3" height="9.3" fill="#050708"/><rect x="755" y="480.45" width="9.3" height="9.3" fill="#050708"/><rect x="766.87" y="479.75" width="9.3" height="9.3" fill="#050708"/><rect x="778.75" y="480.15" width="9.3" height="9.3" fill="#050708"/>
<path d="M817.8 446.2L824.1 452.5L817.8 458.8L811.5 452.5Z" fill="#050708"/>
<text x="833.97" y="456" font-size="13.3" textLength="112.36" lengthAdjust="spacingAndGlyphs">APP/PS1 Hfd male</text>
<path d="M817.8 463.5L824.1 469.8L817.8 476.1L811.5 469.8Z" fill="none" stroke="#888" stroke-width="2.0"/>
<text x="833.97" y="473.5" font-size="13.3" textLength="123.45" lengthAdjust="spacingAndGlyphs">APP/PS1 Hfd female</text>
<rect x="811.4" y="480.5" width="12.8" height="12.8" fill="#050708"/>
<text x="833.94" y="490.7" font-size="13.3" textLength="77.59" lengthAdjust="spacingAndGlyphs">WT Hfd male</text>
<rect x="811.4" y="498" width="12.8" height="12.8" fill="none" stroke="#888" stroke-width="2.0"/>
<text x="833.94" y="507.7" font-size="13.3" textLength="88.68" lengthAdjust="spacingAndGlyphs">WT Hfd female</text>
<circle cx="817.8" cy="521.6" r="6.5" fill="#050708"/>
<text x="833.97" y="525" font-size="13.3" textLength="87.97" lengthAdjust="spacingAndGlyphs">APP/PS1 male</text>
<circle cx="817.8" cy="538.8" r="6.4" fill="none" stroke="#888" stroke-width="2.0"/>
<text x="833.97" y="542.3" font-size="13.3" textLength="99.06" lengthAdjust="spacingAndGlyphs">APP/PS1 female</text>
<path d="M817.8 550.41L824.2 562.19L811.4 562.19Z" fill="#050708"/>
<text x="833.94" y="559.5" font-size="13.3" textLength="53.2" lengthAdjust="spacingAndGlyphs">WT male</text>
<path d="M817.8 567.03L823.57 580.17L812.03 580.17Z" fill="none" stroke="#888" stroke-width="2.0"/>
<text x="833.94" y="576.7" font-size="13.3" textLength="64.29" lengthAdjust="spacingAndGlyphs">WT female</text>
</g>
<g id="panelC">
<text x="973.02" y="457.3" font-size="33.3" textLength="22.46" lengthAdjust="spacingAndGlyphs">C</text>
<path d="M1099.1 540.4V525M1088.7 525H1108.6" stroke="#000" stroke-width="2.1" fill="none" stroke-linecap="round"/>
<path d="M1079.25 768L1079.15 540.35L1119.05 540.35L1118.95 768Z" fill="#fdfdfd" stroke="#000" stroke-width="2.05" stroke-linejoin="miter"/>
<path d="M1167 535.3V522.5M1156.6 522.5H1176.5" stroke="#000" stroke-width="2.1" fill="none" stroke-linecap="round"/>
<path d="M1148.45 768L1147.95 535.25L1186.05 535.25L1187.55 768Z" fill="#2380bb" stroke="#000" stroke-width="2.05" stroke-linejoin="miter"/>
<path d="M1235.15 514.6V505M1224.75 505H1244.65" stroke="#000" stroke-width="2.1" fill="none" stroke-linecap="round"/>
<path d="M1216.95 768L1214.95 514.55L1255.35 514.55L1257.05 768Z" fill="#fff" stroke="#000" stroke-width="2.05" stroke-linejoin="miter"/>
<path d="M1304.25 530.8V519.6M1293.85 519.6H1313.75" stroke="#000" stroke-width="2.1" fill="none" stroke-linecap="round"/>
<path d="M1286.15 768L1284.15 530.75L1324.35 530.75L1326.05 768Z" fill="#2380bb" stroke="#000" stroke-width="2.05" stroke-linejoin="miter"/>
<path d="M1393.35 529.1V510.1M1382.95 510.1H1402.85" stroke="#000" stroke-width="2.1" fill="none" stroke-linecap="round"/>
<path d="M1373.55 768L1373.45 529.05L1413.25 529.05L1413.35 768Z" fill="#fff" stroke="#000" stroke-width="2.05" stroke-linejoin="miter"/>
<path d="M1462.35 509.8V490.6M1451.95 490.6H1471.85" stroke="#000" stroke-width="2.1" fill="none" stroke-linecap="round"/>
<path d="M1442.25 768L1442.35 509.75L1482.35 509.75L1481.95 768Z" fill="#2380bb" stroke="#000" stroke-width="2.05" stroke-linejoin="miter"/>
<path d="M1531.5 516.6V508.9M1521.1 508.9H1541" stroke="#000" stroke-width="2.1" fill="none" stroke-linecap="round"/>
<path d="M1511.65 768L1511.35 516.55L1551.65 516.55L1551.95 768Z" fill="#fff" stroke="#000" stroke-width="2.05" stroke-linejoin="miter"/>
<path d="M1600.55 533.3V515.6M1590.15 515.6H1610.05" stroke="#000" stroke-width="2.1" fill="none" stroke-linecap="round"/>
<path d="M1581.25 768L1580.65 533.25L1620.45 533.25L1620.55 768Z" fill="#2380bb" stroke="#000" stroke-width="2.05" stroke-linejoin="miter"/>
<path d="M1059.1 455.8V768H1642M1059.1 690.2H1070.1M1059.1 612.4H1070.1M1059.1 534.6H1070.1M1059.1 456.8H1070.1" fill="none" stroke="#000" stroke-width="2"/>
<text x="1056" y="774" font-size="22.8" text-anchor="end">0</text>
<text x="1056" y="696.2" font-size="22.8" text-anchor="end">1</text>
<text x="1056" y="618.4" font-size="22.8" text-anchor="end">2</text>
<text x="1056" y="540.6" font-size="22.8" text-anchor="end">3</text>
<text x="1056" y="462.8" font-size="22.8" text-anchor="end">4</text>
<text x="1050.16" y="791.2" font-size="22.7" textLength="136.47" lengthAdjust="spacingAndGlyphs">APP/PS1 WT</text>
<text x="1192.86" y="791.2" font-size="22.7" textLength="136.06" lengthAdjust="spacingAndGlyphs">APP/PS1 WT</text>
<text x="1345.46" y="791.2" font-size="22.7" textLength="135.76" lengthAdjust="spacingAndGlyphs">APP/PS1 WT</text>
<text x="1488.16" y="791.2" font-size="22.7" textLength="135.36" lengthAdjust="spacingAndGlyphs">APP/PS1 WT</text>
<path d="M1073.6 797.5H1182.7" stroke="#000" stroke-width="1.9" stroke-linecap="round"/>
<path d="M1198.5 797.5H1307.1" stroke="#000" stroke-width="1.9" stroke-linecap="round"/>
<path d="M1368.2 797.5H1477.1" stroke="#000" stroke-width="1.9" stroke-linecap="round"/>
<path d="M1492.8 797.5H1601.9" stroke="#000" stroke-width="1.9" stroke-linecap="round"/>
<path d="M1074 824.9H1308.6" stroke="#000" stroke-width="1.9" stroke-linecap="round"/>
<path d="M1368.9 824.9H1603.4" stroke="#000" stroke-width="1.9" stroke-linecap="round"/>
<text x="1111.86" y="818.8" font-size="22.7" textLength="32.39" lengthAdjust="spacingAndGlyphs">NC</text>
<text x="1229.11" y="819" font-size="22.7" textLength="35.88" lengthAdjust="spacingAndGlyphs">Hfd</text>
<text x="1406" y="818.8" font-size="22.7" textLength="33.38" lengthAdjust="spacingAndGlyphs">NC</text>
<text x="1523.73" y="819" font-size="22.7" textLength="35.55" lengthAdjust="spacingAndGlyphs">Hfd</text>
<text x="1158.08" y="847.6" font-size="22.7" textLength="67.01" lengthAdjust="spacingAndGlyphs">female</text>
<text x="1461.1" y="847.6" font-size="22.7" textLength="49.11" lengthAdjust="spacingAndGlyphs">male</text>
<text transform="translate(1023.8,773.2) rotate(-90)" x="-0.89" y="0" font-size="23.4" textLength="323.49" lengthAdjust="spacingAndGlyphs">average food intake (g/day/mouse)</text>
</g>
</svg>
</body>
</html>
